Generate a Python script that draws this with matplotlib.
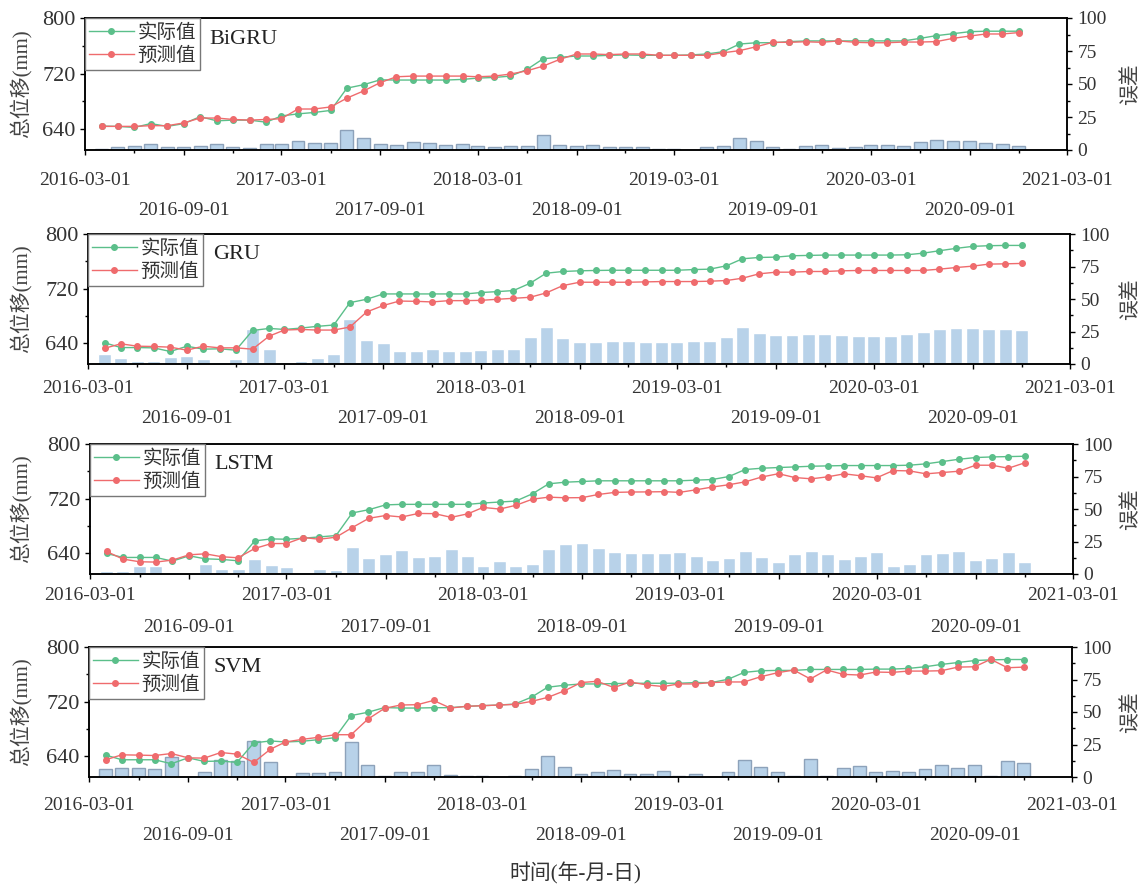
import matplotlib
matplotlib.use('Agg')
import matplotlib.pyplot as plt
import matplotlib.dates as mdates
import pandas as pd
from matplotlib.ticker import FixedLocator, FuncFormatter, MultipleLocator

plt.rcParams['font.family'] = ['Liberation Serif', 'Noto Sans CJK SC']
plt.rcParams['font.size'] = 14

# monthly samples, 2016-04 .. 2020-12
months = pd.date_range('2016-04-01', '2020-12-01', freq='MS')
models = ['BiGRU', 'GRU', 'LSTM', 'SVM']

actual_bigru = [644.4, 644, 642.5, 648, 644, 648, 658, 652, 653, 653,
                650, 659, 662, 664, 667, 699, 704, 711, 710.7, 710.7,
                710.7, 710.7, 711.6, 713.5, 714.4, 716.4, 726, 741.4, 743.4, 745.3,
                745.3, 746.3, 746.8, 746.3, 746.3, 746.3, 746.8, 748.2, 751.5, 762.5,
                764.4, 764.4, 766, 767, 767, 767, 767, 767, 767, 767,
                770.7, 774.6, 777.4, 780.3, 781, 781, 781]
pred_bigru = [644, 644, 644, 645, 645, 649, 656, 656, 654, 653,
              654, 655, 669, 669, 672, 684.7, 695, 707, 715.4, 716.4,
              716.4, 716.4, 716.4, 715.4, 716.4, 719.3, 724, 730.8, 740.5, 748.2,
              748.2, 747.3, 748.2, 748.2, 746.3, 746.3, 746.3, 746.3, 750, 753,
              758.6, 765, 765, 765.8, 765, 767, 765, 764.4, 764.4, 765.4,
              765.4, 766, 770.7, 774, 777, 777, 779]
err_bigru = [1, 2, 3, 4.5, 2.3, 2.3, 3.3, 4.5, 2, 1.8,
             4.3, 4.3, 6.6, 5.6, 5.3, 15, 9, 4.5, 4, 5.8,
             5, 4, 4.3, 3, 2.3, 3.3, 3, 11.4, 3.5, 3,
             3.5, 2.3, 2.3, 2.3, 1, 0.8, 0.3, 2, 3.3, 9,
             6.6, 2, 0.8, 3, 3.5, 1.5, 2.3, 3.5, 3.5, 3,
             5.8, 7.6, 7, 6.6, 5.3, 4.5, 3]

actual_gru = [641, 634, 634, 633.6, 628.3, 636, 631.7, 632.2, 630.2, 659,
              662, 660.5, 662.5, 665, 667, 699.7, 704.6, 712.4, 712.4, 712.4,
              712.4, 712.4, 712.4, 714.4, 715.8, 717.3, 728, 742.7, 745.2, 746.2,
              746.7, 747, 747, 747, 747, 747, 748, 748.6, 753.5, 763.8,
              765.7, 766.2, 768.2, 768.7, 769.2, 769.2, 769.2, 769.2, 769.2, 769.6,
              772, 775.5, 779, 781.9, 782.9, 783.3, 783.3]
pred_gru = [633, 639.5, 636, 635.6, 634.6, 630.2, 636, 633.6, 633.6, 631.7,
            650.8, 659.6, 660.5, 659.6, 659.6, 664, 686, 695.5, 702, 701.6,
            700.7, 702.6, 702.6, 703, 704.6, 706, 707.5, 713.9, 724.6, 729.5,
            729.5, 729.5, 729.5, 730, 730.5, 730.5, 730.5, 731, 732, 735.4,
            741.8, 744.2, 744.2, 745.2, 745.2, 746.2, 746.7, 746.7, 746.7, 746.7,
            746.7, 748.6, 751, 753, 756, 756.4, 757]
err_gru = [7.5, 4.9, 2.3, 2, 5.7, 6.2, 3.9, 1.8, 3.9, 27,
           11.3, 0, 2, 4.6, 7.7, 35, 18.5, 16.2, 9.8, 10,
           11.3, 10, 10, 10.8, 11.6, 11.8, 20.6, 28.8, 20.3, 17.2,
           17, 18, 18, 17, 16.7, 16.7, 17.7, 17.7, 20.8, 28.8,
           24.2, 22.4, 22.4, 22.9, 23.1, 22.6, 21.9, 21.9, 21.9, 22.9,
           24.9, 27, 28, 27.8, 27.2, 27.2, 26]

actual_lstm = [640, 634.2, 634.2, 634.2, 628.8, 636.6, 632.2, 631.3, 629.3, 658.4,
               661.3, 660.8, 662.3, 664.2, 666.2, 699.2, 704, 711, 711.8, 711.8,
               711.8, 711.8, 711.8, 713.7, 715.2, 716.6, 727.3, 741.8, 744.2, 745.2,
               746.2, 746.2, 746.2, 746.2, 746.2, 746.2, 747.2, 748.1, 752.5, 762.7,
               764.6, 765.6, 766.5, 767.5, 768, 768.5, 768.5, 768.5, 768.5, 769,
               771, 774.3, 777.7, 780.2, 781.1, 781.6, 782.1]
pred_lstm = [642.9, 631.8, 627.9, 627.4, 630.3, 638, 639.5, 635.2, 633.7, 647.3,
             654.5, 654.5, 663.3, 660.8, 663.8, 677.8, 691.4, 695.5, 693.3, 698.5,
             698.2, 692.8, 698, 707.3, 704.9, 710.4, 719.4, 722.3, 721.4, 721.6,
             726.2, 729.3, 729.8, 730, 730.3, 729.3, 733.1, 737.1, 740.5, 744.7,
             751.8, 756.6, 751, 749.1, 752, 756.4, 753.5, 750.5, 761.2, 760.7,
             756.4, 758.3, 760.2, 769, 769, 764.6, 772.4]
err_lstm = [2.6, 2.3, 6.2, 6.2, 1.5, 0.5, 7.9, 3.6, 4.1, 11.5,
            7.2, 5.6, 1.5, 3.8, 3.3, 21, 12.6, 15.4, 18.5, 13.3,
            13.6, 19, 13.8, 6.4, 10.3, 6.2, 7.9, 19.5, 22.8, 23.6,
            20, 16.9, 16.4, 16.2, 15.9, 16.9, 14.1, 11, 12, 18,
            12.8, 9, 15.4, 18, 15.4, 11.5, 14.1, 17.2, 6.4, 7.9,
            15.1, 15.9, 17.4, 11, 12.6, 17.2, 9.5]

actual_svm = [642, 635.2, 635.2, 635.2, 629.4, 638, 632.8, 633.3, 631.3, 659.8,
              662.7, 661.2, 662.2, 664.6, 667.5, 699.8, 704.6, 711.5, 710.8, 710.8,
              711.3, 711.3, 713.3, 714.2, 715.2, 716.6, 726.7, 741.2, 744.1, 746,
              746, 746.5, 747, 747, 747, 747, 748, 748, 752.8, 762.9,
              765.3, 765.8, 765.8, 767.2, 767.2, 767.2, 767.2, 767.7, 767.7, 768.7,
              771.1, 774.5, 777.3, 780.2, 781.2, 781.7, 781.7]
pred_svm = [635.2, 642.4, 642, 641.4, 644.3, 638, 637.6, 645.8, 643.4, 631.3,
            650.6, 661.2, 665, 668, 671.8, 671.8, 694.5, 710.4, 715.2, 715.7,
            721.9, 710.8, 713.3, 714.2, 715.2, 716.1, 720.5, 726.3, 735.9, 748,
            749.9, 740.7, 748.9, 744.6, 742.2, 746, 746, 748, 748.9, 748.9,
            756.6, 762.4, 766.3, 753.3, 766.5, 760, 759, 763.4, 762.9, 764.8,
            764.8, 765.3, 770.6, 771.1, 782, 769.7, 770.6]
err_svm = [6.2, 7.2, 6.7, 6.4, 15.1, 0, 3.8, 12.8, 12.3, 27.7,
           11.5, 0, 3.1, 3.1, 4.1, 27.2, 9.5, 1, 3.6, 4.1,
           9.5, 1.5, 0.5, 0.8, 0, 0.5, 6.4, 16.4, 7.9, 2.3,
           3.8, 5.6, 2.3, 2.3, 4.9, 1, 2.3, 0, 3.6, 13.3,
           8, 3.6, 0.8, 14.1, 0.8, 7.2, 8.5, 4.1, 4.6, 3.6,
           6.2, 9.2, 6.7, 9.2, 0.8, 12.3, 10.8]

actuals = [actual_bigru, actual_gru, actual_lstm, actual_svm]
preds = [pred_bigru, pred_gru, pred_lstm, pred_svm]
errs = [err_bigru, err_gru, err_lstm, err_svm]

W, H = 1144, 886
# panel boxes in pixels: left, top, right, bottom
boxes = [(85, 18, 1067, 150), (88, 234, 1070, 364), (90, 444, 1073, 574), (89, 647, 1072, 777)]
row1 = [28, 22, 19, 26]   # distance of first tick-label row below axis (px)
row2 = [58, 52, 51, 56]
bar_edges = ['#8DA2BA', 'white', 'white', '#8DA2BA']

green = '#5BBF8A'
red = '#EF6B6D'
barcol = '#B8D2E9'
txt = '#333333'

mar_ticks = mdates.date2num(pd.date_range('2016-03-01', '2021-03-01', freq='12MS').to_pydatetime())
qtr = [d for d in pd.date_range('2016-03-01', '2021-03-01', freq='3MS') if d.month != 3]
qtr_ticks = mdates.date2num([d.to_pydatetime() for d in qtr])

def fmt_major(v, pos):
    return mdates.num2date(v).strftime('%Y-%m-%d')

def fmt_minor(v, pos):
    d = mdates.num2date(v)
    return d.strftime('%Y-%m-%d') if d.month == 9 else ''

fig = plt.figure(figsize=(W / 100, H / 100), dpi=100)

for k, name in enumerate(models):
    l, t, r, b = boxes[k]
    ax = fig.add_axes([l / W, 1 - b / H, (r - l) / W, (b - t) / H])
    ax2 = ax.twinx()
    ax.set_zorder(ax2.get_zorder() + 1)
    ax.patch.set_visible(False)

    ax2.bar(months, errs[k], width=24, color=barcol, edgecolor=bar_edges[k], linewidth=1)
    ax.plot(months, actuals[k], '-o', color=green, lw=1, ms=4, label='实际值')
    ax.plot(months, preds[k], '-o', color=red, lw=1, ms=4, label='预测值')

    ax.set_xlim(pd.Timestamp('2016-03-01'), pd.Timestamp('2021-03-01'))
    ax.set_ylim(610, 800)
    ax2.set_ylim(0, 100)

    ax.set_yticks([640, 720, 800])
    ax.yaxis.set_minor_locator(FixedLocator([680, 760]))
    ax2.set_yticks([0, 25, 50, 75, 100])
    ax2.yaxis.set_minor_locator(MultipleLocator(12.5))

    ax.xaxis.set_major_locator(FixedLocator(mar_ticks))
    ax.xaxis.set_major_formatter(FuncFormatter(fmt_major))
    ax.xaxis.set_minor_locator(FixedLocator(qtr_ticks))
    ax.xaxis.set_minor_formatter(FuncFormatter(fmt_minor))

    p1 = (row1[k] - 6 - 5) * 0.72
    p2 = (row2[k] - 6 - 5) * 0.72
    ax.tick_params(axis='x', which='major', direction='out', length=3.6, width=1, pad=p1,
                   labelsize=14, labelcolor=txt)
    ax.tick_params(axis='x', which='minor', direction='out', length=3.6, width=1, pad=p2,
                   labelsize=14, labelcolor=txt)
    for tk, d in zip(ax.xaxis.get_minor_ticks(len(qtr)), qtr):
        if d.month != 9:
            tk.tick1line.set_markersize(2)

    ax.tick_params(axis='y', which='major', direction='out', length=3.6, width=1, pad=3,
                   labelsize=16, labelcolor=txt)
    ax.tick_params(axis='y', which='minor', direction='out', length=2, width=1)
    ax2.tick_params(axis='y', which='major', direction='out', length=3.6, width=1, pad=4,
                    labelsize=14, labelcolor=txt)
    ax2.tick_params(axis='y', which='minor', direction='out', length=2, width=1)

    for sp in ax.spines.values():
        sp.set_linewidth(1.1)
    for sp in ax2.spines.values():
        sp.set_linewidth(1.1)

    ax.set_ylabel('总位移(mm)', fontsize=15, color='#444444')
    ax.yaxis.set_label_coords((32 - l) / (r - l), 0.5)
    ax2.set_ylabel('误差', fontsize=15, color='#444444')
    ax2.yaxis.set_label_coords((1122 - l) / (r - l), 0.5)

    ax.text(0.127, 0.84, name, transform=ax.transAxes, fontsize=16, va='center', ha='left',
            color='#222222')

    leg = ax.legend(loc='upper left', borderaxespad=0, fancybox=False, framealpha=1,
                    edgecolor='#777777', handlelength=2.3, handletextpad=0.2,
                    labelspacing=0.1, borderpad=0.2,
                    prop={'family': ['Noto Sans CJK SC'], 'size': 14})
    leg.get_frame().set_linewidth(1)
    for tx in leg.get_texts():
        tx.set_color('#333333')

fig.text(575 / W, 1 - 873 / H, '时间(年-月-日)', ha='center', va='center', fontsize=15,
         color='#333333')

fig.savefig('out.png', dpi=100)
